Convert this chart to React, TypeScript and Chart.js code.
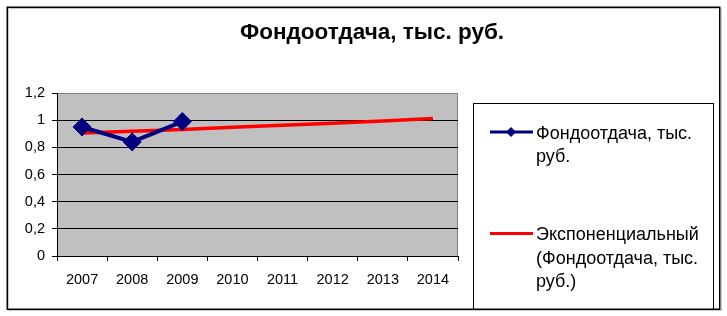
import React, { useEffect, useRef } from "react";
import { Chart, registerables } from "chart.js";

Chart.register(...registerables);

const categories = ["2007", "2008", "2009", "2010", "2011", "2012", "2013", "2014"];
const fondootdacha = [0.95, 0.84, 0.99, null, null, null, null, null];
const trendExp = [0.905, 0.918, 0.932, 0.947, 0.962, 0.978, 0.994, 1.012];
const titleText = "Фондоотдача, тыс. руб.";
const seriesLabel = "Фондоотдача, тыс. руб.";
const trendLabel = "Экспоненциальный (Фондоотдача, тыс. руб.)";

const FONT = "'Liberation Sans', Arial, sans-serif";

function wrap(ctx: CanvasRenderingContext2D, text: string, maxW: number): string[] {
  const words = text.split(" ");
  const lines: string[] = [];
  let cur = "";
  for (const w of words) {
    const test = cur ? cur + " " + w : w;
    if (ctx.measureText(test).width > maxW && cur) {
      lines.push(cur);
      cur = w;
    } else cur = test;
  }
  if (cur) lines.push(cur);
  return lines;
}

const decorPlugin = {
  id: "decor",
  beforeDraw(chart: any) {
    const { ctx, chartArea: a } = chart;
    ctx.save();
    ctx.fillStyle = "#ffffff";
    ctx.fillRect(0, 0, chart.width, chart.height);
    // outer frame
    ctx.strokeStyle = "#c8c8c8";
    ctx.lineWidth = 1;
    ctx.strokeRect(8.5, 8.5, 713, 302);
    ctx.strokeStyle = "#000000";
    ctx.lineWidth = 1.5;
    ctx.strokeRect(7.25, 7.25, 712.5, 302);
    // plot area
    ctx.fillStyle = "#c0c0c0";
    ctx.fillRect(a.left, a.top, a.right - a.left, a.bottom - a.top);
    ctx.strokeStyle = "#808080";
    ctx.lineWidth = 1;
    ctx.strokeRect(a.left + 0.5, a.top + 0.5, a.right - a.left - 1, a.bottom - a.top);
    // title
    ctx.fillStyle = "#000000";
    ctx.font = "bold 22.5px " + FONT;
    ctx.textAlign = "center";
    ctx.textBaseline = "alphabetic";
    ctx.fillText(titleText, 372, 39);
    ctx.restore();
  },
  afterDraw(chart: any) {
    const { ctx } = chart;
    ctx.save();
    // legend box
    ctx.strokeStyle = "#000000";
    ctx.lineWidth = 1;
    ctx.strokeRect(473.5, 103.5, 240, 206);
    ctx.font = "18px " + FONT;
    ctx.fillStyle = "#000000";
    ctx.textAlign = "left";
    ctx.textBaseline = "alphabetic";
    const starts = [138.5, 240];
    chart.data.datasets.forEach((ds: any, i: number) => {
      const base = starts[i];
      const lines = wrap(ctx, ds.label, 178);
      lines.forEach((ln, j) => ctx.fillText(ln, 536, base + j * 23.5));
      const ly = base - 6.5;
      ctx.strokeStyle = ds.borderColor;
      ctx.lineWidth = 3;
      ctx.beginPath();
      ctx.moveTo(490, ly);
      ctx.lineTo(533, ly);
      ctx.stroke();
      if (ds.pointRadius > 0) {
        ctx.fillStyle = ds.borderColor;
        ctx.beginPath();
        ctx.moveTo(511 - 5, ly);
        ctx.lineTo(511, ly - 5);
        ctx.lineTo(511 + 5, ly);
        ctx.lineTo(511, ly + 5);
        ctx.closePath();
        ctx.fill();
        ctx.fillStyle = "#000000";
      }
    });
    ctx.restore();
  },
};

export default function App() {
  const ref = useRef<HTMLCanvasElement>(null);
  useEffect(() => {
    document.body.style.margin = "0";
    const chart = new Chart(ref.current!, {
      type: "line",
      data: {
        labels: categories,
        datasets: [
          {
            label: seriesLabel,
            data: fondootdacha,
            borderColor: "#000080",
            backgroundColor: "#000080",
            borderWidth: 4,
            pointStyle: "rectRot",
            pointRadius: 9,
            pointBorderWidth: 1,
            fill: false,
            tension: 0,
            spanGaps: false,
            order: 1,
          },
          {
            label: trendLabel,
            data: trendExp,
            borderColor: "#ff0000",
            borderWidth: 3.5,
            pointRadius: 0,
            fill: false,
            tension: 0,
            order: 2,
          },
        ],
      },
      options: {
        responsive: false,
        animation: false,
        devicePixelRatio: 1,
        layout: { padding: { left: 0, top: 93, right: 269, bottom: 0 } },
        plugins: { legend: { display: false }, title: { display: false }, tooltip: { enabled: false } },
        scales: {
          x: {
            offset: true,
            afterFit: (s: any) => { s.height = 60; },
            grid: { offset: true, drawOnChartArea: false, drawTicks: true, tickLength: 5, tickColor: "#000000" },
            border: { color: "#000000", width: 1 },
            ticks: { color: "#000000", padding: 10, font: { family: FONT, size: 14.5 }, maxRotation: 0 },
          },
          y: {
            min: 0,
            max: 1.2,
            afterFit: (s: any) => { s.width = 57; },
            grid: {
              color: (c: any) => (c.tick && Math.abs(c.tick.value - 1.2) < 1e-6 ? "rgba(0,0,0,0)" : "#000000"),
              tickColor: "#000000",
              tickLength: 5,
              drawTicks: true,
            },
            border: { color: "#000000", width: 1 },
            ticks: {
              stepSize: 0.2,
              color: "#000000",
              padding: 7,
              font: { family: FONT, size: 14.5 },
              callback: (v: any) => String(Number(Number(v).toFixed(1))).replace(".", ","),
            },
          },
        },
      },
      plugins: [decorPlugin],
    });
    return () => chart.destroy();
  }, []);
  return <canvas ref={ref} width={727} height={316} style={{ display: "block" }} />;
}
